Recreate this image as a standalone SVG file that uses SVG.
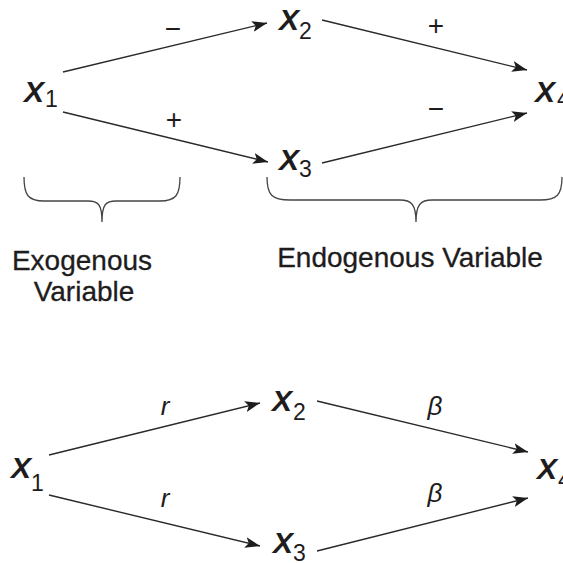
<svg xmlns="http://www.w3.org/2000/svg" width="563" height="563" viewBox="0 0 563 563">
<style>
text { font-family: "Liberation Sans", Arial, Helvetica, sans-serif; fill: #1e1c1d; }
.v { font-size: 30px; font-weight: bold; font-style: italic; }
.s { font-size: 23px; font-weight: normal; font-style: normal; }
.sign { font-size: 28px; text-anchor: middle; }
.greek { font-size: 26px; font-style: italic; text-anchor: middle; }
.cap { font-size: 28px; stroke: #1e1c1d; stroke-width: 0.3; }
.edge { stroke: #2a2829; stroke-width: 1.4; fill: none; marker-end: url(#ah); }
.brace { stroke: #444; stroke-width: 1.3; fill: none; }
</style>
<defs>
<marker id="ah" markerUnits="userSpaceOnUse" markerWidth="16" markerHeight="12" refX="15" refY="5.5" orient="auto" viewBox="0 0 16 11">
<path d="M0,0 L15,5.5 L0,11 L3.5,5.5 z" fill="#1e1c1d"/>
</marker>
</defs>

<g id="connectors">
<line class="edge" x1="63" y1="72" x2="267" y2="23"/>
<line class="edge" x1="63" y1="112" x2="268" y2="162"/>
<line class="edge" x1="322" y1="20" x2="527" y2="70"/>
<line class="edge" x1="322" y1="163" x2="527" y2="113"/>
<line class="edge" x1="49" y1="455" x2="260" y2="403"/>
<line class="edge" x1="49" y1="495" x2="260" y2="546"/>
<line class="edge" x1="317" y1="401" x2="528" y2="452"/>
<line class="edge" x1="317" y1="551" x2="528" y2="498"/>
</g>

<g id="edge-labels">
<text class="sign" x="173" y="38">−</text>
<text class="sign" x="174" y="129">+</text>
<text class="sign" x="436" y="35">+</text>
<text class="sign" x="436" y="118">−</text>
<text class="greek" x="165" y="415">r</text>
<text class="greek" x="165" y="507">r</text>
<text class="greek" x="435" y="415">β</text>
<text class="greek" x="435" y="502">β</text>
</g>

<g id="top-x1"><text class="v" x="24" y="102">X<tspan class="s" x="45" y="107">1</tspan></text></g>
<g id="top-x2"><text class="v" x="279" y="30">X<tspan class="s" x="299" y="39">2</tspan></text></g>
<g id="top-x3"><text class="v" x="279" y="170">X<tspan class="s" x="299" y="177">3</tspan></text></g>
<g id="top-x4"><text class="v" x="535" y="102">X<tspan class="s" x="557" y="107">4</tspan></text></g>

<g id="exogenous-brace">
<path class="brace" d="M24,177 C24,195 28,201 44,201 L88,201 C98,201 102,204 102,222 C102,204 106,201 116,201 L160,201 C176,201 180,195 180,177"/>
<text class="cap" x="82" y="270" text-anchor="middle">Exogenous</text>
<text class="cap" x="84" y="301" text-anchor="middle">Variable</text>
</g>

<g id="endogenous-brace">
<path class="brace" d="M267,177 C267,195 272,200 290,200 L400,200 C411,200 416,204 416,222 C416,204 421,200 432,200 L540,200 C557,200 562,195 562,177"/>
<text class="cap" x="410" y="267" text-anchor="middle">Endogenous Variable</text>
</g>

<g id="bottom-x1"><text class="v" x="11" y="478">X<tspan class="s" x="31" y="491">1</tspan></text></g>
<g id="bottom-x2"><text class="v" x="272" y="411">X<tspan class="s" x="293" y="420">2</tspan></text></g>
<g id="bottom-x3"><text class="v" x="273" y="553">X<tspan class="s" x="293" y="561">3</tspan></text></g>
<g id="bottom-x4"><text class="v" x="537" y="479">X<tspan class="s" x="558" y="488">4</tspan></text></g>
</svg>
